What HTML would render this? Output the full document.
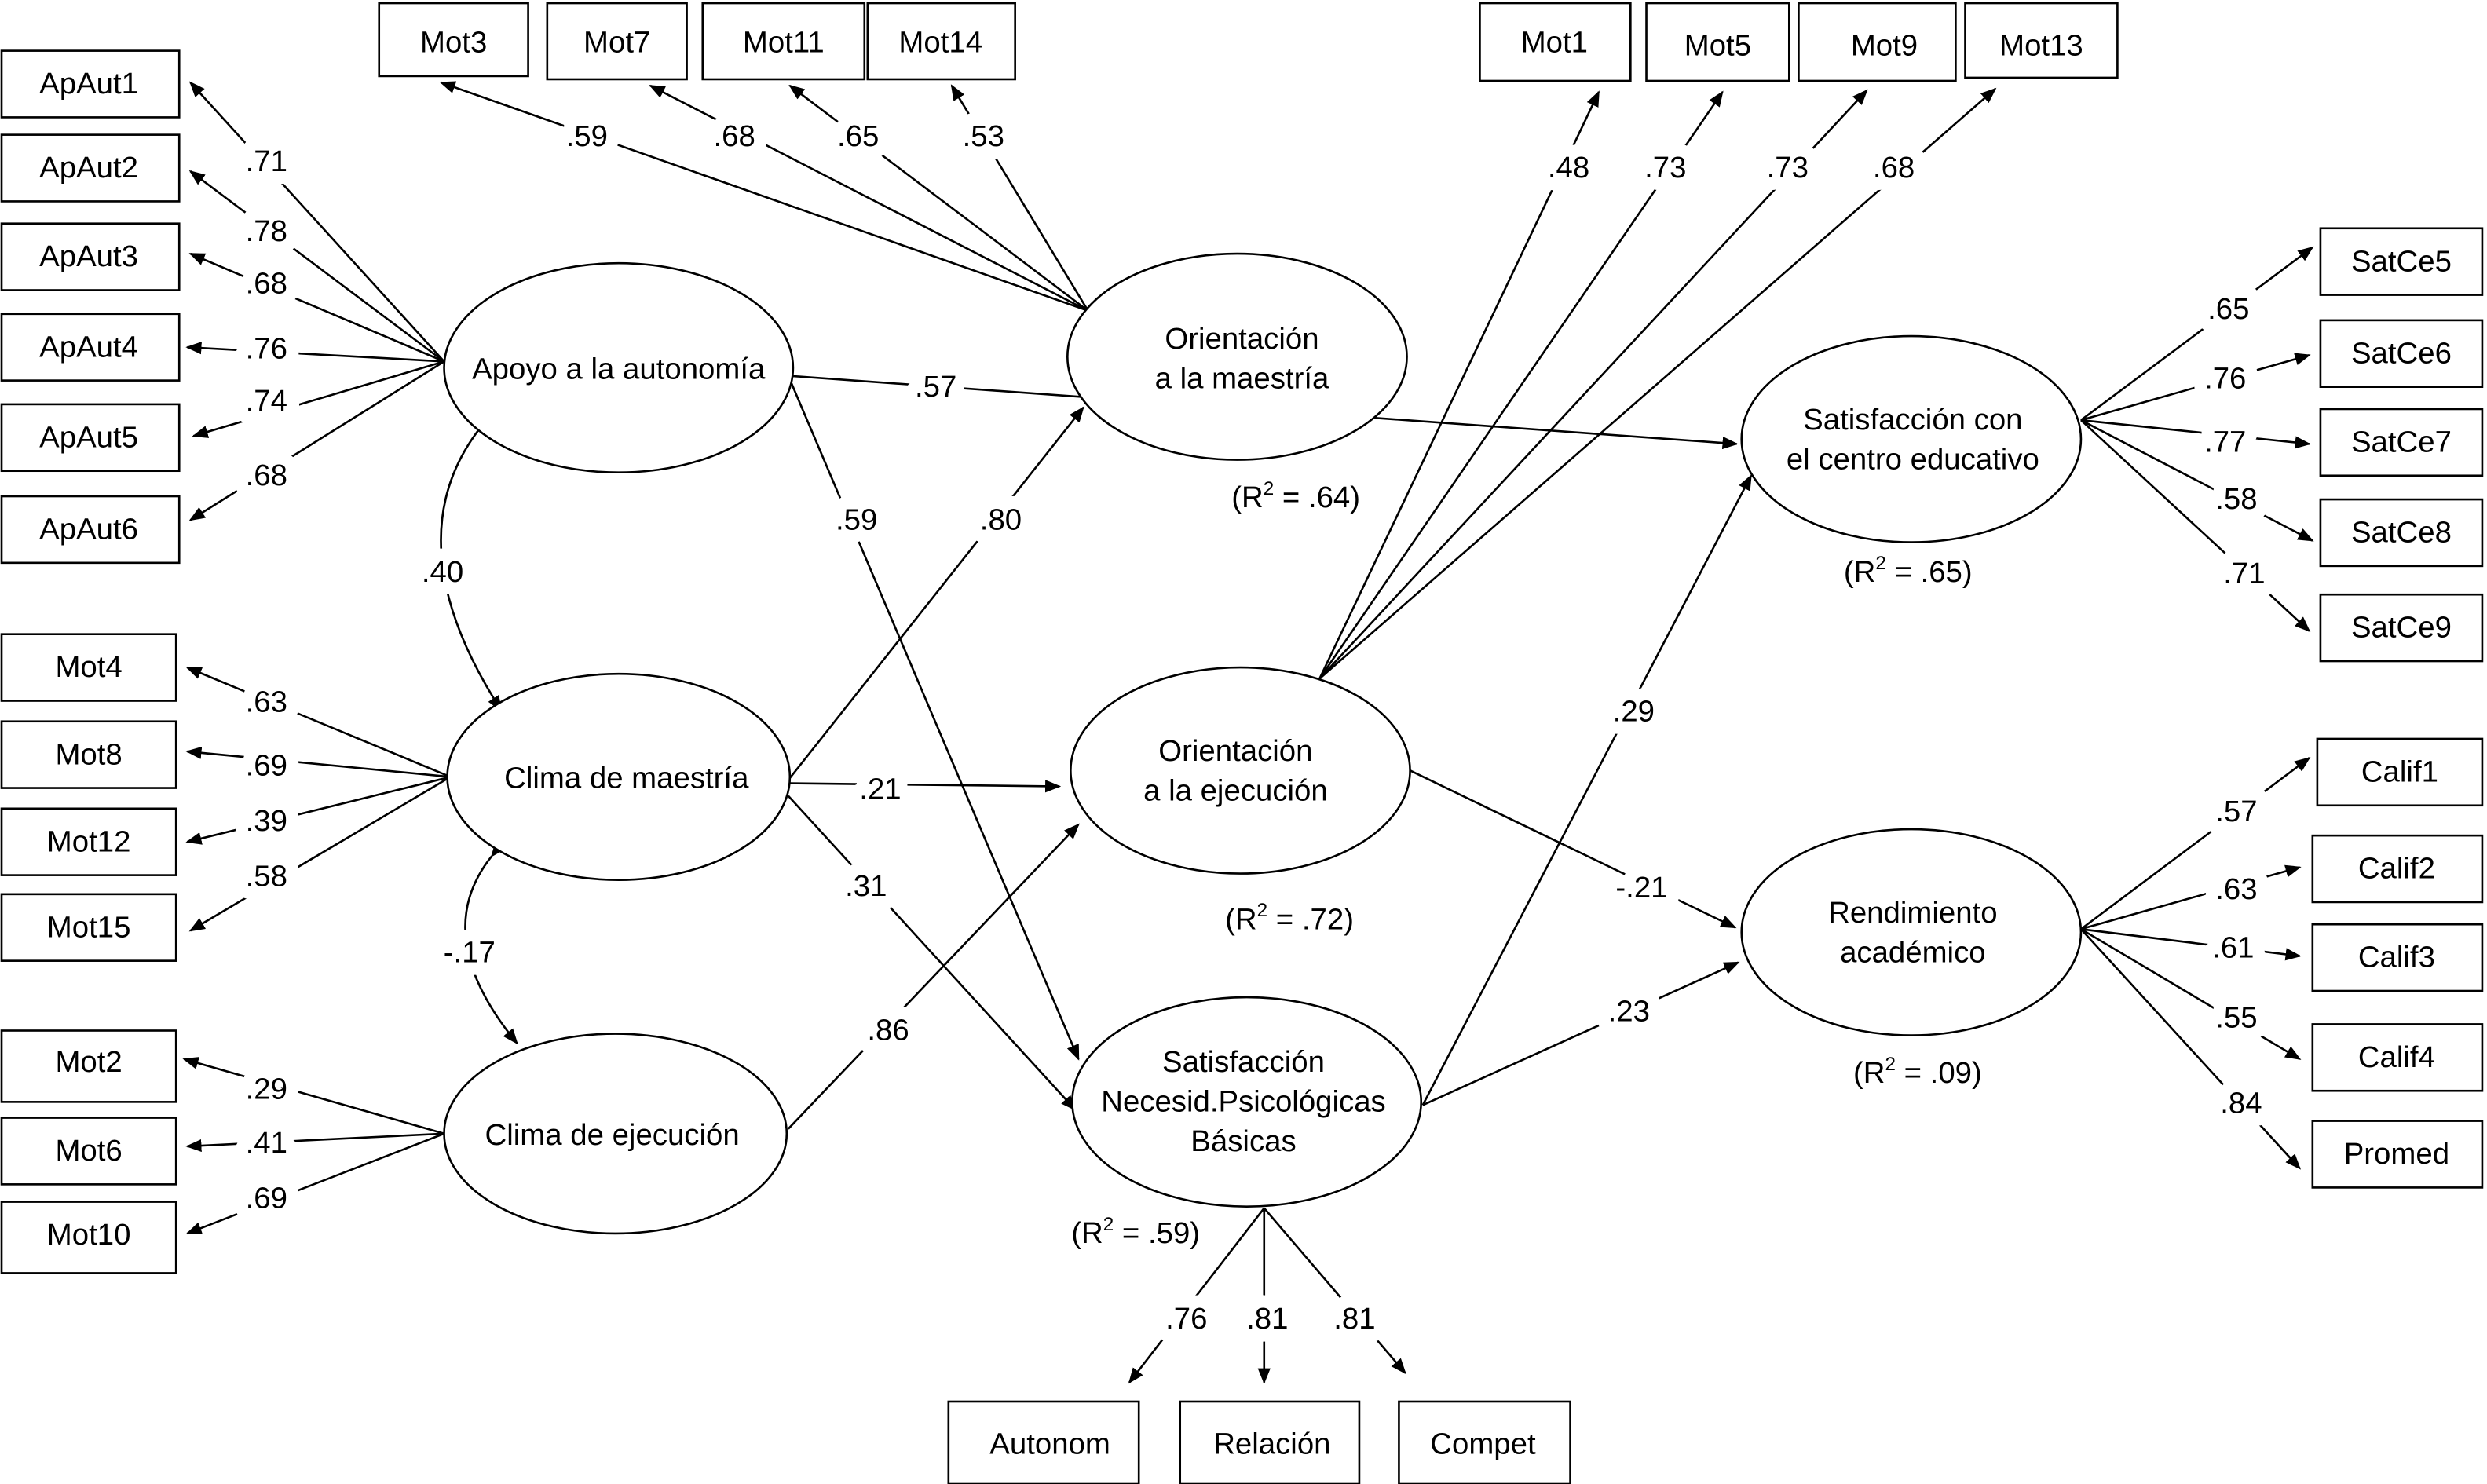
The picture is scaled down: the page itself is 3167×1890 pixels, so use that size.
<!DOCTYPE html>
<html><head><meta charset="utf-8"><style>
html,body{margin:0;padding:0;background:#fff}
svg{display:block}
text{font-family:"Liberation Sans",sans-serif;font-size:19px;fill:#000}
.l{paint-order:stroke;stroke:#fff;stroke-width:16px;stroke-linejoin:round}
</style></head><body>
<svg width="3167" height="1890" viewBox="0 0 1568 936" preserveAspectRatio="none" xmlns="http://www.w3.org/2000/svg">
<defs><marker id="a" markerWidth="10" markerHeight="8" refX="9" refY="4" orient="auto" markerUnits="userSpaceOnUse"><path d="M0,0 L10,4 L0,8 z" fill="#000"/></marker></defs>
<g stroke="#000" stroke-width="1.3" fill="none" marker-end="url(#a)">
<line x1="280" y1="228" x2="120" y2="52"/>
<line x1="280" y1="228" x2="120" y2="108"/>
<line x1="280" y1="228" x2="120" y2="160"/>
<line x1="280" y1="228" x2="118" y2="219"/>
<line x1="280" y1="228" x2="122" y2="275"/>
<line x1="280" y1="228" x2="120" y2="328"/>
<line x1="284" y1="490" x2="118" y2="421"/>
<line x1="284" y1="490" x2="118" y2="474"/>
<line x1="284" y1="490" x2="118" y2="531"/>
<line x1="284" y1="490" x2="120" y2="587"/>
<line x1="280" y1="715" x2="116" y2="668"/>
<line x1="280" y1="715" x2="118" y2="723"/>
<line x1="280" y1="715" x2="118" y2="778"/>
<line x1="686" y1="196" x2="278" y2="52"/>
<line x1="686" y1="196" x2="410" y2="54"/>
<line x1="686" y1="196" x2="498" y2="54"/>
<line x1="686" y1="196" x2="600" y2="54"/>
<line x1="832" y1="428" x2="1008" y2="58"/>
<line x1="832" y1="428" x2="1086" y2="58"/>
<line x1="832" y1="428" x2="1177" y2="57"/>
<line x1="832" y1="428" x2="1258" y2="56"/>
<line x1="1312" y1="265" x2="1458" y2="156"/>
<line x1="1312" y1="265" x2="1456" y2="224"/>
<line x1="1312" y1="265" x2="1456" y2="280"/>
<line x1="1312" y1="265" x2="1458" y2="341"/>
<line x1="1312" y1="265" x2="1456" y2="398"/>
<line x1="1312" y1="586" x2="1456" y2="478"/>
<line x1="1312" y1="586" x2="1450" y2="547"/>
<line x1="1312" y1="586" x2="1450" y2="603"/>
<line x1="1312" y1="586" x2="1450" y2="668"/>
<line x1="1312" y1="586" x2="1450" y2="737"/>
<line x1="797" y1="762" x2="712" y2="872"/>
<line x1="797" y1="762" x2="797" y2="872"/>
<line x1="797" y1="762" x2="886" y2="866"/>
<line x1="497" y1="237" x2="1095" y2="280"/>
<line x1="497" y1="237" x2="680" y2="668"/>
<line x1="497" y1="492" x2="683" y2="257"/>
<line x1="497" y1="494" x2="668" y2="496"/>
<line x1="497" y1="502" x2="678" y2="700"/>
<line x1="497" y1="712" x2="680" y2="520"/>
<line x1="887" y1="485" x2="1094" y2="585"/>
<line x1="897" y1="697" x2="1104" y2="300"/>
<line x1="897" y1="697" x2="1096" y2="607"/>
<path d="M316,255 Q240,330 316,448" marker-start="url(#a)"/>
<path d="M310,540 Q270,590 326,658" marker-start="url(#a)"/>
</g>
<g stroke="#000" stroke-width="1.3" fill="#fff">
<rect x="1" y="32" width="112" height="42"/><rect x="1" y="85" width="112" height="42"/><rect x="1" y="141" width="112" height="42"/><rect x="1" y="198" width="112" height="42"/><rect x="1" y="255" width="112" height="42"/><rect x="1" y="313" width="112" height="42"/>
<rect x="1" y="400" width="110" height="42"/><rect x="1" y="455" width="110" height="42"/><rect x="1" y="510" width="110" height="42"/><rect x="1" y="564" width="110" height="42"/>
<rect x="1" y="650" width="110" height="45"/><rect x="1" y="705" width="110" height="42"/><rect x="1" y="758" width="110" height="45"/>
<rect x="239" y="2" width="94" height="46"/><rect x="345" y="2" width="88" height="48"/><rect x="443" y="2" width="102" height="48"/><rect x="547" y="2" width="93" height="48"/>
<rect x="933" y="2" width="95" height="49"/><rect x="1038" y="2" width="90" height="49"/><rect x="1134" y="2" width="99" height="49"/><rect x="1239" y="2" width="96" height="47"/>
<rect x="1463" y="144" width="102" height="42"/><rect x="1463" y="202" width="102" height="42"/><rect x="1463" y="258" width="102" height="42"/><rect x="1463" y="315" width="102" height="42"/><rect x="1463" y="375" width="102" height="42"/>
<rect x="1461" y="466" width="104" height="42"/><rect x="1458" y="527" width="107" height="42"/><rect x="1458" y="583" width="107" height="42"/><rect x="1458" y="646" width="107" height="42"/><rect x="1458" y="707" width="107" height="42"/>
<rect x="598" y="884" width="120" height="52"/><rect x="744" y="884" width="113" height="52"/><rect x="882" y="884" width="108" height="52"/>
<ellipse cx="390" cy="232" rx="110" ry="66"/>
<ellipse cx="390" cy="490" rx="108" ry="65"/>
<ellipse cx="388" cy="715" rx="108" ry="63"/>
<ellipse cx="780" cy="225" rx="107" ry="65"/>
<ellipse cx="782" cy="486" rx="107" ry="65"/>
<ellipse cx="786" cy="695" rx="110" ry="66"/>
<ellipse cx="1205" cy="277" rx="107" ry="65"/>
<ellipse cx="1205" cy="588" rx="107" ry="65"/>
</g>
<g text-anchor="middle">
<text x="56" y="59">ApAut1</text><text x="56" y="112">ApAut2</text><text x="56" y="168">ApAut3</text><text x="56" y="225">ApAut4</text><text x="56" y="282">ApAut5</text><text x="56" y="340">ApAut6</text>
<text x="56" y="427">Mot4</text><text x="56" y="482">Mot8</text><text x="56" y="537">Mot12</text><text x="56" y="591">Mot15</text>
<text x="56" y="676">Mot2</text><text x="56" y="732">Mot6</text><text x="56" y="785">Mot10</text>
<text x="286" y="33">Mot3</text><text x="389" y="33">Mot7</text><text x="494" y="33">Mot11</text><text x="593" y="33">Mot14</text>
<text x="980" y="33">Mot1</text><text x="1083" y="35">Mot5</text><text x="1188" y="35">Mot9</text><text x="1287" y="35">Mot13</text>
<text x="1514" y="171">SatCe5</text><text x="1514" y="229">SatCe6</text><text x="1514" y="285">SatCe7</text><text x="1514" y="342">SatCe8</text><text x="1514" y="402">SatCe9</text>
<text x="1513" y="493">Calif1</text><text x="1511" y="554">Calif2</text><text x="1511" y="610">Calif3</text><text x="1511" y="673">Calif4</text><text x="1511" y="734">Promed</text>
<text x="662" y="917">Autonom</text><text x="802" y="917">Relación</text><text x="935" y="917">Compet</text>
<text x="390" y="239">Apoyo a la autonomía</text>
<text x="395" y="497">Clima de maestría</text>
<text x="386" y="722">Clima de ejecución</text>
<text x="783" y="220">Orientación</text><text x="783" y="245">a la maestría</text>
<text x="779" y="480">Orientación</text><text x="779" y="505">a la ejecución</text>
<text x="784" y="676">Satisfacción</text><text x="784" y="701">Necesid.Psicológicas</text><text x="784" y="726">Básicas</text>
<text x="1206" y="271">Satisfacción con</text><text x="1206" y="296">el centro educativo</text>
<text x="1206" y="582">Rendimiento</text><text x="1206" y="607">académico</text>
<text x="817" y="320">(R<tspan font-size="12" dy="-8">2</tspan><tspan dy="8"> = .64)</tspan></text>
<text x="813" y="586">(R<tspan font-size="12" dy="-8">2</tspan><tspan dy="8"> = .72)</tspan></text>
<text x="716" y="784">(R<tspan font-size="12" dy="-8">2</tspan><tspan dy="8"> = .59)</tspan></text>
<text x="1203" y="367">(R<tspan font-size="12" dy="-8">2</tspan><tspan dy="8"> = .65)</tspan></text>
<text x="1209" y="683">(R<tspan font-size="12" dy="-8">2</tspan><tspan dy="8"> = .09)</tspan></text>
</g>
<g text-anchor="middle">
<text class="l" x="168" y="108">.71</text><text class="l" x="168" y="152">.78</text><text class="l" x="168" y="185">.68</text><text class="l" x="168" y="226">.76</text><text class="l" x="168" y="259">.74</text><text class="l" x="168" y="306">.68</text>
<text class="l" x="168" y="449">.63</text><text class="l" x="168" y="489">.69</text><text class="l" x="168" y="524">.39</text><text class="l" x="168" y="559">.58</text>
<text class="l" x="168" y="693">.29</text><text class="l" x="168" y="727">.41</text><text class="l" x="168" y="762">.69</text>
<text class="l" x="370" y="92">.59</text><text class="l" x="463" y="92">.68</text><text class="l" x="541" y="92">.65</text><text class="l" x="620" y="92">.53</text>
<text class="l" x="989" y="112">.48</text><text class="l" x="1050" y="112">.73</text><text class="l" x="1127" y="112">.73</text><text class="l" x="1194" y="112">.68</text>
<text class="l" x="1405" y="201">.65</text><text class="l" x="1403" y="245">.76</text><text class="l" x="1403" y="285">.77</text><text class="l" x="1410" y="321">.58</text><text class="l" x="1415" y="368">.71</text>
<text class="l" x="1410" y="518">.57</text><text class="l" x="1410" y="567">.63</text><text class="l" x="1408" y="604">.61</text><text class="l" x="1410" y="648">.55</text><text class="l" x="1413" y="702">.84</text>
<text class="l" x="748" y="838">.76</text><text class="l" x="799" y="838">.81</text><text class="l" x="854" y="838">.81</text>
<text class="l" x="590" y="250">.57</text>
<text class="l" x="540" y="334">.59</text>
<text class="l" x="631" y="334">.80</text>
<text class="l" x="555" y="504">.21</text>
<text class="l" x="546" y="565">.31</text>
<text class="l" x="560" y="656">.86</text>
<text class="l" x="1030" y="455">.29</text>
<text class="l" x="1035" y="566">-.21</text>
<text class="l" x="1027" y="644">.23</text>
<text class="l" x="279" y="367">.40</text>
<text class="l" x="296" y="607">-.17</text>
</g>
</svg>
</body></html>
